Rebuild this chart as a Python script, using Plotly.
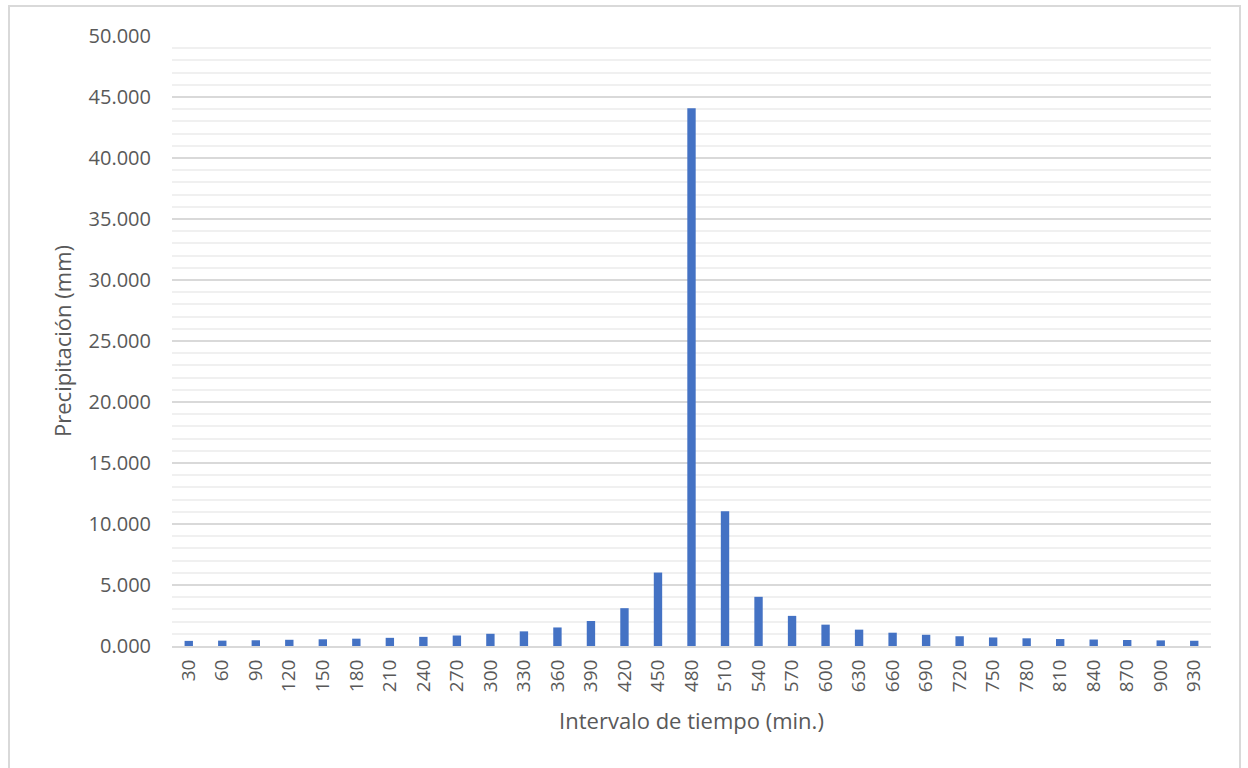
import plotly.graph_objects as go

# Time intervals (minutes) and rainfall depth per interval (mm)
intervalos = [30, 60, 90, 120, 150, 180, 210, 240, 270, 300, 330, 360, 390, 420, 450,
              480, 510, 540, 570, 600, 630, 660, 690, 720, 750, 780, 810, 840, 870, 900, 930]
precipitacion = [0.42, 0.44, 0.47, 0.51, 0.55, 0.60, 0.67, 0.75, 0.86, 1.00, 1.20, 1.52, 2.05, 3.10, 6.02,
                 44.07, 11.05, 4.03, 2.47, 1.75, 1.34, 1.09, 0.92, 0.80, 0.70, 0.63, 0.57, 0.53, 0.49, 0.46, 0.43]
y_ticks = [0, 5, 10, 15, 20, 25, 30, 35, 40, 45, 50]

W, H = 1248, 768
L, R, T, B = 172, 37, 36, 122
pw, ph = W - L - R, H - T - B

font_fam = "Open Sans, Liberation Sans, sans-serif"
txt_col = "#595959"

fig = go.Figure()
fig.add_trace(go.Bar(
    x=[str(v) for v in intervalos],
    y=precipitacion,
    width=0.25,
    marker=dict(color="#4472C4", line=dict(width=0)),
    hoverinfo="x+y",
))

fig.update_layout(
    width=W, height=H,
    margin=dict(l=L, r=R, t=T, b=B),
    paper_bgcolor="white",
    plot_bgcolor="white",
    showlegend=False,
    font=dict(family=font_fam, color=txt_col, size=16),
    xaxis=dict(
        type="category",
        tickangle=-90,
        tickfont=dict(size=19, color=txt_col),
        showgrid=False,
        showline=True,
        linecolor="#d9d9d9",
        linewidth=2,
        ticks="",
        ticklabelstandoff=4,
        title=dict(text="Intervalo de tiempo (min.)", font=dict(size=22, color=txt_col), standoff=22),
    ),
    yaxis=dict(
        range=[0, 50],
        tickvals=y_ticks,
        tickformat=".3f",
        tickfont=dict(size=20, color=txt_col),
        showgrid=True,
        gridcolor="#d9d9d9",
        gridwidth=1.5,
        zeroline=False,
        showline=False,
        ticks="",
        ticklabelstandoff=20,
        minor=dict(dtick=1, showgrid=True, gridcolor="#f0f0f0", gridwidth=1.5),
        title=dict(text="Precipitación (mm)", font=dict(size=22, color=txt_col), standoff=10),
    ),
)

# Chart frame around the whole figure
x0 = (9 - L) / pw
x1 = (1240 - L) / pw
y1 = (H - B - 6) / ph
y0 = (H - B - 800) / ph
fig.add_shape(type="rect", xref="paper", yref="paper", x0=x0, x1=x1, y0=y0, y1=y1,
              line=dict(color="#d9d9d9", width=2), fillcolor="rgba(0,0,0,0)", layer="below")

fig.write_html("out.html")
